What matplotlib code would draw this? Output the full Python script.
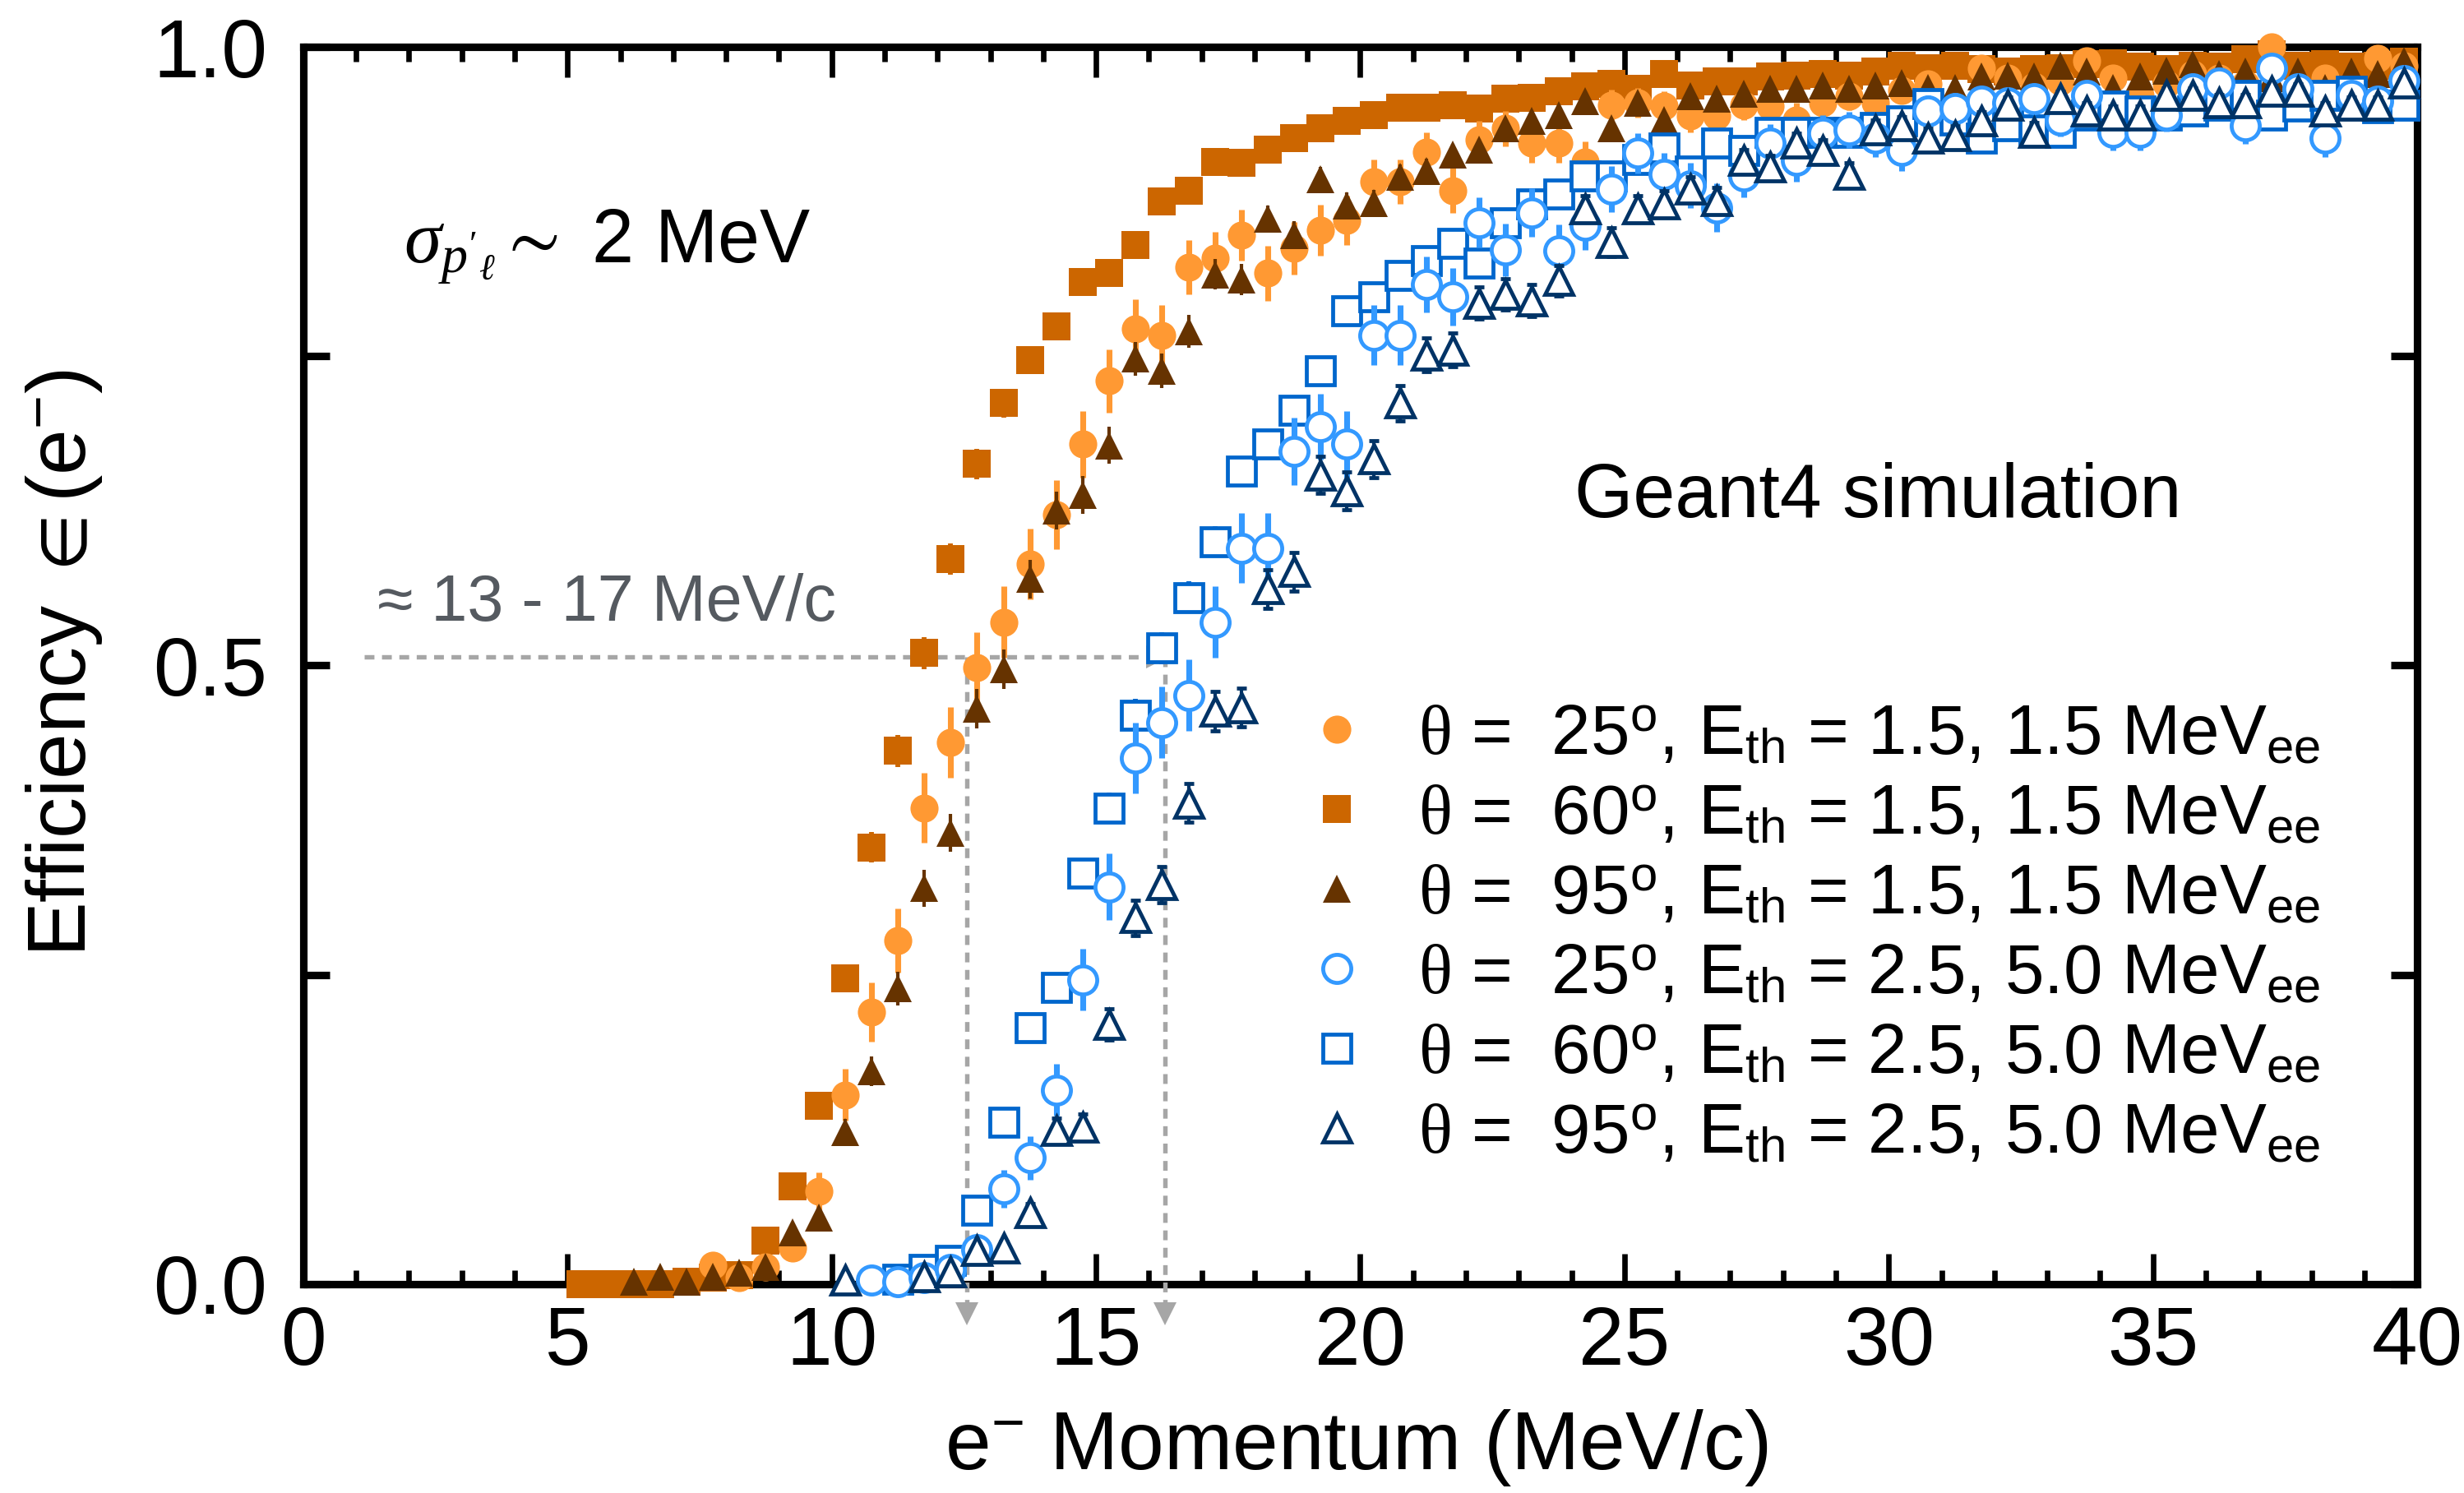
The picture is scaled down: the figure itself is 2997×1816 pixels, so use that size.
import numpy as np
import matplotlib
matplotlib.use("Agg")
import matplotlib.pyplot as plt
from matplotlib.ticker import MultipleLocator, FixedLocator, FixedFormatter

plt.rcParams['font.family'] = ['Liberation Sans', 'DejaVu Sans']
plt.rcParams['mathtext.fontset'] = 'custom'
plt.rcParams['mathtext.rm'] = 'Liberation Serif'
plt.rcParams['mathtext.it'] = 'Liberation Serif:italic'
plt.rcParams['mathtext.bf'] = 'Liberation Serif:bold'
plt.rcParams['mathtext.sf'] = 'Liberation Sans'
plt.rcParams['mathtext.fallback'] = 'stix'

# bins are 0.5 MeV/c wide, values below start at the given bin centre
BIN = 0.5

# theta = 25 deg, Eth = 1.5, 1.5 MeVee
start_25_low = 7.75
eff_25_low = [0.015, 0.005, 0.014, 0.029, 0.075, 0.153, 0.220, 0.278, 0.385, 0.438,
              0.498, 0.535, 0.582, 0.622, 0.679, 0.730, 0.772, 0.767, 0.822, 0.829,
              0.848, 0.817, 0.837, 0.852, 0.860, 0.891, 0.891, 0.915, 0.884, 0.925,
              0.934, 0.922, 0.922, 0.907, 0.953, 0.955, 0.952, 0.944, 0.944, 0.953,
              0.952, 0.941, 0.955, 0.960, 0.955, 0.965, 0.970, 0.949, 0.983, 0.975,
              0.968, 0.972, 0.989, 0.975, 0.961, 0.970, 0.978, 0.975, 0.970, 1.000,
              0.968, 0.975, 0.965, 0.991, 0.985]

# theta = 60 deg, Eth = 1.5, 1.5 MeVee
start_60_low = 5.25
eff_60_low = [0.000, 0.000, 0.000, 0.000, 0.002, 0.005, 0.007, 0.035, 0.079, 0.144,
              0.247, 0.353, 0.431, 0.510, 0.586, 0.663, 0.712, 0.747, 0.774, 0.810,
              0.817, 0.840, 0.875, 0.884, 0.907, 0.906, 0.917, 0.926, 0.934, 0.940,
              0.945, 0.951, 0.951, 0.953, 0.950, 0.958, 0.959, 0.964, 0.968, 0.970,
              0.966, 0.978, 0.969, 0.972, 0.972, 0.976, 0.977, 0.978, 0.977, 0.980,
              0.985, 0.983, 0.985, 0.982, 0.980, 0.982, 0.983, 0.986, 0.987, 0.984,
              0.982, 0.985, 0.984, 0.990, 0.994, 0.985, 0.986, 0.984, 0.985, 0.988]

# theta = 95 deg, Eth = 1.5, 1.5 MeVee
start_95_low = 6.25
eff_95_low = [0.002, 0.006, 0.002, 0.006, 0.009, 0.014, 0.042, 0.054, 0.123, 0.172,
              0.239, 0.320, 0.365, 0.465, 0.497, 0.570, 0.625, 0.638, 0.678, 0.748,
              0.738, 0.770, 0.816, 0.812, 0.861, 0.848, 0.893, 0.872, 0.874, 0.895,
              0.900, 0.913, 0.917, 0.934, 0.940, 0.945, 0.956, 0.934, 0.955, 0.941,
              0.960, 0.958, 0.962, 0.966, 0.966, 0.969, 0.966, 0.969, 0.971, 0.967,
              0.967, 0.976, 0.977, 0.976, 0.985, 0.980, 0.967, 0.976, 0.981, 0.986,
              0.978, 0.980, 0.975, 0.980, 0.967, 0.980, 0.978, 0.989]

# theta = 25 deg, Eth = 2.5, 5.0 MeVee
start_25_high = 10.75
eff_25_high = [0.003, 0.002, 0.005, 0.012, 0.028, 0.077, 0.102, 0.157, 0.246, 0.321,
               0.425, 0.454, 0.476, 0.535, 0.595, 0.595, 0.673, 0.693, 0.679, 0.767,
               0.767, 0.808, 0.798, 0.858, 0.836, 0.866, 0.835, 0.856, 0.885, 0.914,
               0.897, 0.888, 0.870, 0.896, 0.922, 0.908, 0.930, 0.933, 0.926, 0.916,
               0.948, 0.950, 0.956, 0.955, 0.958, 0.941, 0.961, 0.931, 0.931, 0.945,
               0.966, 0.971, 0.936, 0.983, 0.966, 0.926, 0.961, 0.956, 0.973]

# theta = 60 deg, Eth = 2.5, 5.0 MeVee
start_60_high = 11.25
eff_60_high = [0.004, 0.012, 0.019, 0.060, 0.131, 0.207, 0.240, 0.332, 0.385, 0.460,
               0.514, 0.555, 0.600, 0.657, 0.679, 0.706, 0.738, 0.787, 0.798, 0.815,
               0.827, 0.841, 0.825, 0.858, 0.873, 0.881, 0.896, 0.896, 0.909, 0.918,
               0.900, 0.922, 0.916, 0.931, 0.931, 0.931, 0.931, 0.935, 0.940, 0.954,
               0.941, 0.926, 0.936, 0.933, 0.931, 0.945, 0.952, 0.948, 0.945, 0.948,
               0.953, 0.961, 0.945, 0.952, 0.961, 0.964, 0.951, 0.953]

# theta = 95 deg, Eth = 2.5, 5.0 MeVee
start_95_high = 11.75
eff_95_high = [0.006, 0.010, 0.027, 0.029, 0.058, 0.124, 0.127, 0.210, 0.296, 0.323,
               0.389, 0.463, 0.466, 0.562, 0.576, 0.654, 0.641, 0.667, 0.712, 0.751,
               0.755, 0.793, 0.800, 0.795, 0.811, 0.869, 0.842, 0.869, 0.873, 0.885,
               0.876, 0.908, 0.903, 0.922, 0.916, 0.897, 0.933, 0.936, 0.926, 0.928,
               0.940, 0.953, 0.931, 0.958, 0.948, 0.945, 0.945, 0.961, 0.961, 0.955,
               0.955, 0.964, 0.964, 0.948, 0.953, 0.953, 0.971]
extra_95_high = (10.25, 0.003)   # lone point below threshold

# simulated events per bin (sets the binomial error bars)
n_circle = 300
n_square = 1500
n_triangle = 1000

labels = [
    r"$\mathrm{\theta}$ =  25$^{\mathsf{o}}$, E$_{\mathsf{th}}$ = 1.5, 1.5 MeV$_{\mathsf{ee}}$",
    r"$\mathrm{\theta}$ =  60$^{\mathsf{o}}$, E$_{\mathsf{th}}$ = 1.5, 1.5 MeV$_{\mathsf{ee}}$",
    r"$\mathrm{\theta}$ =  95$^{\mathsf{o}}$, E$_{\mathsf{th}}$ = 1.5, 1.5 MeV$_{\mathsf{ee}}$",
    r"$\mathrm{\theta}$ =  25$^{\mathsf{o}}$, E$_{\mathsf{th}}$ = 2.5, 5.0 MeV$_{\mathsf{ee}}$",
    r"$\mathrm{\theta}$ =  60$^{\mathsf{o}}$, E$_{\mathsf{th}}$ = 2.5, 5.0 MeV$_{\mathsf{ee}}$",
    r"$\mathrm{\theta}$ =  95$^{\mathsf{o}}$, E$_{\mathsf{th}}$ = 2.5, 5.0 MeV$_{\mathsf{ee}}$",
]

# threshold annotation
half_eff = 0.507
p_low, p_high = 12.56, 16.31
arrow_start = 1.15

c_lt_orange = '#FF9933'
c_orange = '#CC6600'
c_brown = '#663300'
c_lt_blue = '#3399FF'
c_blue = '#0066CC'
c_navy = '#003366'
c_grey = '#A6A6A6'


def series_x(start, vals):
    return start + BIN * np.arange(len(vals))


fig = plt.figure(figsize=(2997 / 300, 1816 / 300), dpi=300)
ax = fig.add_axes([0.1231, 0.1399, 0.8579, 0.8287])

MS = 8.2


def draw(x, y, n, marker, color, filled, z, elw, caps=0.0, capt=0.0):
    y = np.asarray(y, dtype=float)
    err = np.sqrt(y * (1 - y) / n)
    eb = ax.errorbar(x, y, yerr=err, fmt=marker, ms=MS,
                     mfc=color if filled else 'white', mec=color,
                     mew=0 if filled else 1.15, ecolor=color, elinewidth=elw,
                     capsize=caps, capthick=capt, zorder=z, clip_on=False)
    for part in eb.lines[1] + eb.lines[2]:
        part.set_clip_on(False)
    return eb


h60 = draw(series_x(start_60_low, eff_60_low), eff_60_low, n_square, 's', c_orange, True, 4, 1.4)
h25 = draw(series_x(start_25_low, eff_25_low), eff_25_low, n_circle, 'o', c_lt_orange, True, 5, 1.7)
h95 = draw(series_x(start_95_low, eff_95_low), eff_95_low, n_triangle, '^', c_brown, True, 6, 1.0, 1.4, 2.2)
h60b = draw(series_x(start_60_high, eff_60_high), eff_60_high, n_square, 's', c_blue, False, 7, 1.4)
h25b = draw(series_x(start_25_high, eff_25_high), eff_25_high, n_circle, 'o', c_lt_blue, False, 8, 1.7)
h95b = draw(np.r_[extra_95_high[0], series_x(start_95_high, eff_95_high)],
            np.r_[extra_95_high[1], eff_95_high], n_triangle, '^', c_navy, False, 9, 1.0, 1.4, 2.2)

# dashed guide lines with arrow heads
dash = dict(color=c_grey, lw=1.3, ls=(0, (2.2, 1.7)), zorder=3, clip_on=False)
ax.plot([arrow_start, p_high - 0.25], [half_eff, half_eff], **dash)
ax.plot([p_low, p_low], [half_eff, -0.015], **dash)
ax.plot([p_high, p_high], [half_eff, -0.015], **dash)
ax.plot([p_high - 0.15], [half_eff], marker='>', ms=6.5, color=c_grey, mew=0, zorder=3)
ax.plot([p_low, p_high], [-0.024, -0.024], ls='none', marker='v', ms=6.5,
        color=c_grey, mew=0, zorder=3, clip_on=False)

ax.text(arrow_start + 0.25, 0.536, u"\u2248 13 - 17 MeV/c", fontsize=19, color='#555a60')
ax.text(1.9, 0.825, r"$\sigma_{p'_{\ell}} \sim$ 2 MeV", fontsize=22)
ax.text(24.06, 0.62, "Geant4 simulation", fontsize=22)

handles = [h25.lines[0], h60.lines[0], h95.lines[0], h25b.lines[0], h60b.lines[0], h95b.lines[0]]
leg = ax.legend(handles, labels, loc='upper left', bbox_to_anchor=(18.9, 0.47),
                bbox_transform=ax.transData, frameon=False, fontsize=20.5,
                handlelength=1.0, handletextpad=0.65, labelspacing=0.2,
                borderpad=0, borderaxespad=0, numpoints=1)

ax.set_xlim(0, 40)
ax.set_ylim(0, 1)
ax.xaxis.set_major_locator(MultipleLocator(5))
ax.xaxis.set_minor_locator(MultipleLocator(1))
ax.yaxis.set_major_locator(FixedLocator([0, 0.25, 0.5, 0.75, 1.0]))
ax.yaxis.set_major_formatter(FixedFormatter(['0.0', '', '0.5', '', '1.0']))

for s in ax.spines.values():
    s.set_linewidth(2.2)
ax.tick_params(which='both', direction='in', top=True, right=True, labelsize=24)
ax.tick_params(axis='x', which='major', length=8.8, width=1.6, pad=6)
ax.tick_params(axis='x', which='minor', length=4.2, width=1.6)
ax.tick_params(axis='y', which='major', length=7.7, width=2.2, pad=10.5)

ax.set_xlabel(r"e$^{\mathsf{-}}$ Momentum (MeV/c)", fontsize=24)
ax.set_ylabel(r"Efficiency $\in$(e$^{\mathsf{-}}$)", fontsize=24)
ax.xaxis.set_label_coords(0.498, -0.0997)
ax.yaxis.set_label_coords(-0.094, 0.502)

fig.savefig("out.png", dpi=300)
